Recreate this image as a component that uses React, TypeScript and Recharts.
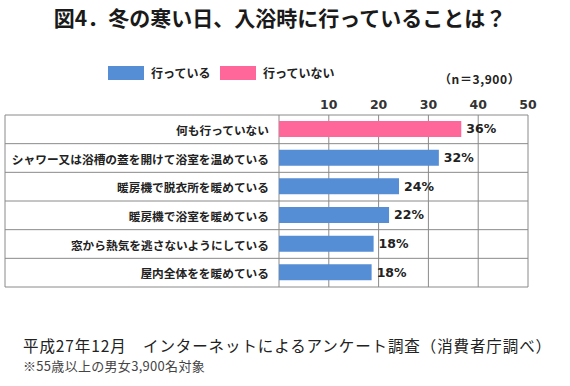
import { BarChart, Bar, XAxis, YAxis, CartesianGrid, Cell, LabelList } from 'recharts'

const W = 570
const H = 386
const MARGIN = { top: 85, right: 42, bottom: 99, left: 5 }
const X_AXIS_H = 30
const Y_AXIS_W = 274

const JP = "'Noto Sans CJK JP', sans-serif"
const NUM = "'DejaVu Sans', 'Noto Sans CJK JP', sans-serif"
const GRID = '#8a8a8a'

// survey items, top to bottom
const categories = [
  '何も行っていない',
  'シャワー又は浴槽の蓋を開けて浴室を温めている',
  '暖房機で脱衣所を暖めている',
  '暖房機で浴室を暖めている',
  '窓から熱気を逃さないようにしている',
  '屋内全体をを暖めている',
]
const values = [36.6, 32.1, 24.1, 22.1, 19.0, 18.6]
const valueLabels = ['36%', '32%', '24%', '22%', '18%', '18%']
const groups = ['none', 'doing', 'doing', 'doing', 'doing', 'doing']
const xTicks = [0, 10, 20, 30, 40, 50]

const legendNames = ['行っている', '行っていない']
const COLORS: Record<string, string> = {
  doing: '#558ed5',
  none: '#ff6699',
}
const legendKeys = ['doing', 'none']

const data = categories.map((c, i) => ({
  label: c,
  value: values[i],
  pct: valueLabels[i],
  group: groups[i],
}))

function CategoryTick(props: any) {
  const { x, y, payload } = props
  const i = categories.indexOf(payload.value)
  const plotTop = MARGIN.top + X_AXIS_H
  const plotBottom = H - MARGIN.bottom
  const rowH = (plotBottom - plotTop) / categories.length
  const left = MARGIN.left
  const right = W - MARGIN.right
  return (
    <g>
      <line x1={left} x2={right} y1={y - rowH / 2} y2={y - rowH / 2} stroke={GRID} />
      {i === categories.length - 1 && (
        <line x1={left} x2={right} y1={y + rowH / 2} y2={y + rowH / 2} stroke={GRID} />
      )}
      {i === 0 && <line x1={left} x2={left} y1={plotTop} y2={plotBottom} stroke={GRID} />}
      <text
        x={x}
        y={y}
        textAnchor="end"
        dominantBaseline="central"
        fontFamily={JP}
        fontSize={11.7}
        fontWeight={700}
        fill="#222"
      >
        {payload.value}
      </text>
    </g>
  )
}

export default function App() {
  return (
    <div style={{ position: 'absolute', left: 0, top: 0, width: W, height: H, background: '#fff', fontFamily: JP }}>
      <div
        style={{
          position: 'absolute',
          top: 5,
          left: 0,
          width: 560,
          textAlign: 'center',
          fontSize: 21,
          lineHeight: '24px',
          fontWeight: 700,
          color: '#1a1a1a',
        }}
      >
        図4．冬の寒い日、入浴時に行っていることは？
      </div>

      {legendNames.map((name, i) => (
        <div key={name} style={{ position: 'absolute', top: 66, left: i === 0 ? 108 : 220, display: 'flex', alignItems: 'center' }}>
          <div style={{ width: 36, height: 14, background: COLORS[legendKeys[i]] }} />
          <div style={{ marginLeft: 7, fontSize: 12, fontWeight: 700, lineHeight: '14px', color: '#222' }}>{name}</div>
        </div>
      ))}

      <div style={{ position: 'absolute', top: 71, left: 439, fontSize: 12, fontWeight: 700, lineHeight: '15px', color: '#222', letterSpacing: 0.6 }}>
        （n＝3,900）
      </div>

      <BarChart
        width={W}
        height={H}
        data={data}
        layout="vertical"
        margin={MARGIN}
        barSize={16}
        style={{ position: 'absolute', left: 0, top: 0 }}
      >
        <CartesianGrid horizontal={false} stroke={GRID} />
        <XAxis
          type="number"
          orientation="top"
          domain={[0, 50]}
          ticks={xTicks}
          height={X_AXIS_H}
          axisLine={false}
          tickLine={false}
          tickSize={0}
          tickMargin={6}
          tickFormatter={(v: number) => (v === 0 ? '' : String(v))}
          tick={{ fontFamily: NUM, fontSize: 12.5, fontWeight: 700, fill: '#333' }}
        />
        <YAxis
          type="category"
          dataKey="label"
          width={Y_AXIS_W}
          axisLine={false}
          tickLine={false}
          tickSize={0}
          tickMargin={10}
          interval={0}
          tick={<CategoryTick />}
        />
        <Bar dataKey="value" isAnimationActive={false}>
          {data.map((d) => (
            <Cell key={d.label} fill={COLORS[d.group]} />
          ))}
          <LabelList
            dataKey="pct"
            position="right"
            offset={5}
            style={{ fontFamily: NUM, fontSize: 12.5, fontWeight: 700, fill: '#222' }}
          />
        </Bar>
      </BarChart>

      <div style={{ position: 'absolute', top: 337, left: 23, fontSize: 15.5, lineHeight: '16px', letterSpacing: 0.9, color: '#222', whiteSpace: 'nowrap' }}>
        平成27年12月　インターネットによるアンケート調査（消費者庁調べ）
      </div>
      <div style={{ position: 'absolute', top: 359, left: 23, fontSize: 13, lineHeight: '14px', letterSpacing: 0.3, color: '#444', whiteSpace: 'nowrap' }}>
        ※55歳以上の男女3,900名対象
      </div>
    </div>
  )
}
